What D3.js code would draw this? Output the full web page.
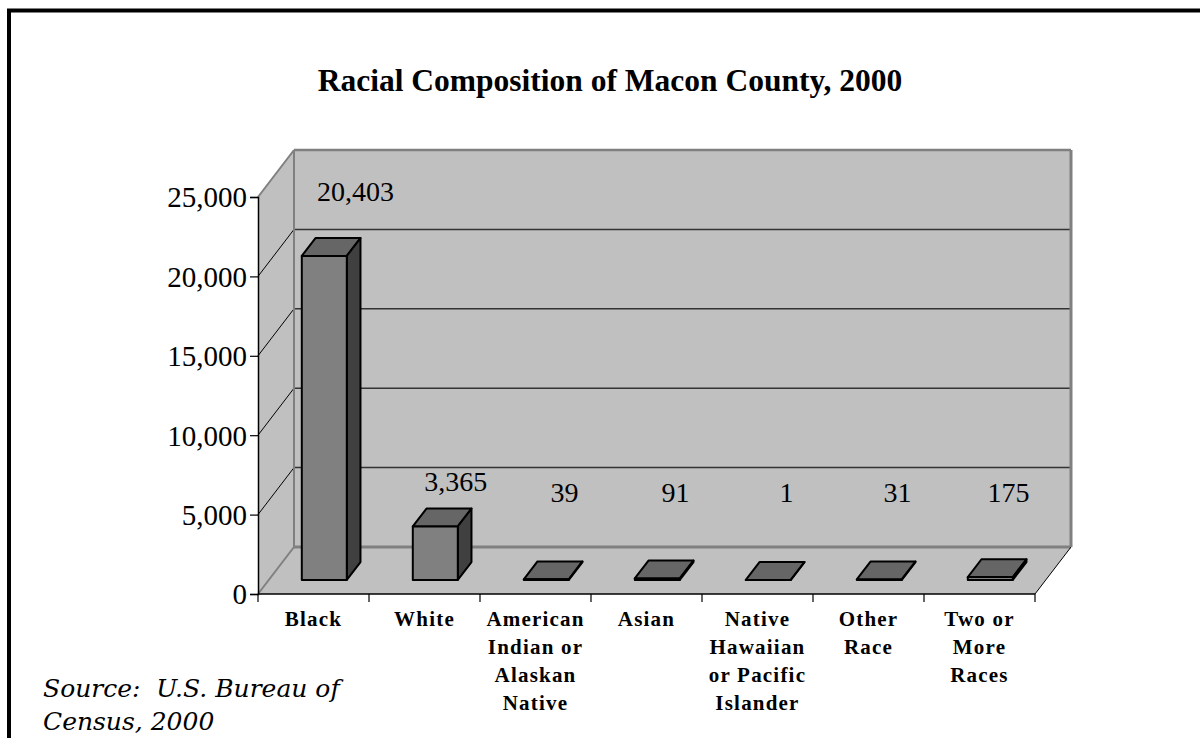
<!DOCTYPE html>
<html>
<head>
<meta charset="utf-8">
<script src="https://cdn.jsdelivr.net/npm/d3@7/dist/d3.min.js"></script>
<style>
  html, body { margin: 0; padding: 0; background: #fff; }
  svg { display: block; }
  .serif { font-family: "Liberation Serif", "Times New Roman", serif; }
</style>
</head>
<body>
<svg id="chart" width="1200" height="738"></svg>
<script>
// Population by race, Macon County, 2000
const categories = ["Black", "White", "American Indian or Alaskan Native", "Asian",
  "Native Hawaiian or Pacific Islander", "Other Race", "Two or More Races"];
const categoryLines = [
  ["Black"],
  ["White"],
  ["American", "Indian or", "Alaskan", "Native"],
  ["Asian"],
  ["Native", "Hawaiian", "or Pacific", "Islander"],
  ["Other", "Race"],
  ["Two or", "More", "Races"]
];
const population = [20403, 3365, 39, 91, 1, 31, 175];
const yTicks = [0, 5000, 10000, 15000, 20000, 25000];

const titleText = "Racial Composition of Macon County, 2000";
const sourceLines = ["Source:  U.S. Bureau of", "Census, 2000"];

const svg = d3.select("#chart");

// frame
svg.append("rect")
  .attr("x", 9).attr("y", 10.5)
  .attr("width", 1220).attr("height", 760)
  .attr("fill", "#fff").attr("stroke", "#000").attr("stroke-width", 4);

// plot geometry (front plane + depth offset of the 3D box)
const plotL = 258, plotR = 1035, plotBase = 594, plotTop = 197;
const DX = 36, DY = 47;          // depth offset of the back wall
const z0 = 0.3, z1 = 0.68;       // bar depth span inside the box
const barW = 45;

const x = d3.scaleBand().domain(categories).range([plotL, plotR]).paddingInner(0).paddingOuter(0);
const y = d3.scaleLinear().domain([0, 25000]).range([plotBase, plotTop]);
const P = (px, v, z) => [px + z * DX, y(v) - z * DY];
const poly = pts => pts.map(p => p.join(",")).join(" ");

const wallFill = "#c0c0c0", wallEdge = "#808080";
const g = svg.append("g");

// back wall
const bw0 = P(plotL, 25000, 1), bw1 = P(plotR, 0, 1);
g.append("rect")
  .attr("x", bw0[0]).attr("y", bw0[1])
  .attr("width", bw1[0] - bw0[0]).attr("height", bw1[1] - bw0[1])
  .attr("fill", wallFill);

// side wall
g.append("polygon")
  .attr("points", poly([P(plotL, 0, 0), P(plotL, 0, 1), P(plotL, 25000, 1), P(plotL, 25000, 0)]))
  .attr("fill", wallFill);

// floor
g.append("polygon")
  .attr("points", poly([P(plotL, 0, 0), P(plotR, 0, 0), P(plotR, 0, 1), P(plotL, 0, 1)]))
  .attr("fill", wallFill);

// gridlines on back wall and side wall
const inner = yTicks.filter(t => t > 0 && t < 25000);
g.selectAll(".grid").data(inner).join("line")
  .attr("x1", d => P(plotL, d, 1)[0]).attr("x2", d => P(plotR, d, 1)[0])
  .attr("y1", d => P(plotL, d, 1)[1]).attr("y2", d => P(plotL, d, 1)[1])
  .attr("stroke", "#333").attr("stroke-width", 1.5);
g.selectAll(".sgrid").data(inner).join("line")
  .attr("x1", d => P(plotL, d, 0)[0]).attr("y1", d => P(plotL, d, 0)[1])
  .attr("x2", d => P(plotL, d, 1)[0]).attr("y2", d => P(plotL, d, 1)[1])
  .attr("stroke", "#000").attr("stroke-width", 1);

// wall edges
const edge = (a, b, c, w) => g.append("line")
  .attr("x1", a[0]).attr("y1", a[1]).attr("x2", b[0]).attr("y2", b[1])
  .attr("stroke", c).attr("stroke-width", w);
edge(P(plotL, 25000, 0), P(plotL, 25000, 1), wallEdge, 2);
edge(P(plotL, 25000, 1), P(plotR, 25000, 1), wallEdge, 2.5);
edge(P(plotR, 25000, 1), P(plotR, 0, 1), wallEdge, 3);
edge(P(plotL, 25000, 1), P(plotL, 0, 1), wallEdge, 2);
edge(P(plotL, 0, 1), P(plotR, 0, 1), wallEdge, 3);
edge(P(plotL, 0, 0), P(plotL, 0, 1), wallEdge, 2);
edge(P(plotR, 0, 0), P(plotR, 0, 1), "#000", 1);

// bars
const bars = g.selectAll(".bar").data(categories.map((c, i) => ({ c, v: population[i] })))
  .join("g").attr("class", "bar");
bars.each(function (d) {
  const cx = x(d.c) + x.bandwidth() / 2;
  const xl = cx - barW / 2, xr = cx + barW / 2;
  const sel = d3.select(this);
  const st = s => s.attr("stroke", "#000").attr("stroke-width", 2).attr("stroke-linejoin", "round");
  // top
  st(sel.append("polygon")
    .attr("points", poly([P(xl, d.v, z0), P(xr, d.v, z0), P(xr, d.v, z1), P(xl, d.v, z1)]))
    .attr("fill", "#666"));
  // side
  st(sel.append("polygon")
    .attr("points", poly([P(xr, 0, z0), P(xr, 0, z1), P(xr, d.v, z1), P(xr, d.v, z0)]))
    .attr("fill", "#404040"));
  // front
  st(sel.append("polygon")
    .attr("points", poly([P(xl, 0, z0), P(xr, 0, z0), P(xr, d.v, z0), P(xl, d.v, z0)]))
    .attr("fill", "#808080"));
});

// value labels
svg.selectAll(".vlabel").data(categories.map((c, i) => ({ c, v: population[i] })))
  .join("text")
  .attr("class", "serif")
  .attr("font-size", 28)
  .attr("text-anchor", "middle")
  .attr("x", d => {
    const h = y(0) - y(d.v);
    return x(d.c) + x.bandwidth() / 2 + 29 + 0.04 * h;
  })
  .attr("y", d => {
    const h = y(0) - y(d.v);
    const backTop = P(0, d.v, z1)[1];
    return Math.min(backTop - 14 - 0.07 * h, 502);
  })
  .text(d => d3.format(",")(d.v));

// y axis on the front plane
const yAxis = svg.append("g")
  .attr("transform", `translate(${plotL},0)`)
  .call(d3.axisLeft(y).tickValues(yTicks).tickFormat(d3.format(",")).tickSize(8).tickPadding(3));
yAxis.select(".domain").attr("stroke", "#000").attr("stroke-width", 1.5);
yAxis.selectAll(".tick line").attr("stroke", "#000").attr("stroke-width", 1.2);
yAxis.selectAll(".tick text")
  .attr("font-family", "'Liberation Serif', 'Times New Roman', serif")
  .attr("font-size", 29).attr("fill", "#000").attr("dy", "0.34em");

// category axis along the front edge of the floor
svg.append("line")
  .attr("x1", plotL).attr("x2", plotR).attr("y1", plotBase).attr("y2", plotBase)
  .attr("stroke", "#000").attr("stroke-width", 1.5);
const bounds = categories.map(c => x(c)).concat([plotR]);
svg.selectAll(".xtick").data(bounds).join("line")
  .attr("x1", d => d).attr("x2", d => d)
  .attr("y1", plotBase).attr("y2", plotBase + 8)
  .attr("stroke", "#000").attr("stroke-width", 1.2);

const catText = svg.selectAll(".cat").data(categories.map((c, i) => ({ c, lines: categoryLines[i] })))
  .join("text")
  .attr("class", "serif")
  .attr("font-size", 21).attr("font-weight", "bold")
  .attr("letter-spacing", 1.2)
  .attr("text-anchor", "middle");
catText.each(function (d) {
  const cx = x(d.c) + x.bandwidth() / 2;
  d3.select(this).selectAll("tspan").data(d.lines).join("tspan")
    .attr("x", cx).attr("y", (l, i) => 626 + i * 28)
    .text(l => l);
});

// title
svg.append("text")
  .attr("class", "serif")
  .attr("x", 610).attr("y", 91)
  .attr("text-anchor", "middle")
  .attr("font-size", 31.5).attr("font-weight", "bold")
  .text(titleText);

// source note
svg.append("text")
  .attr("font-family", "'DejaVu Serif', serif")
  .attr("font-style", "italic")
  .attr("font-size", 25)
  .style("white-space", "pre")
  .selectAll("tspan").data(sourceLines).join("tspan")
  .attr("x", 43).attr("y", (d, i) => 697 + i * 33)
  .text(d => d);
</script>
</body>
</html>
